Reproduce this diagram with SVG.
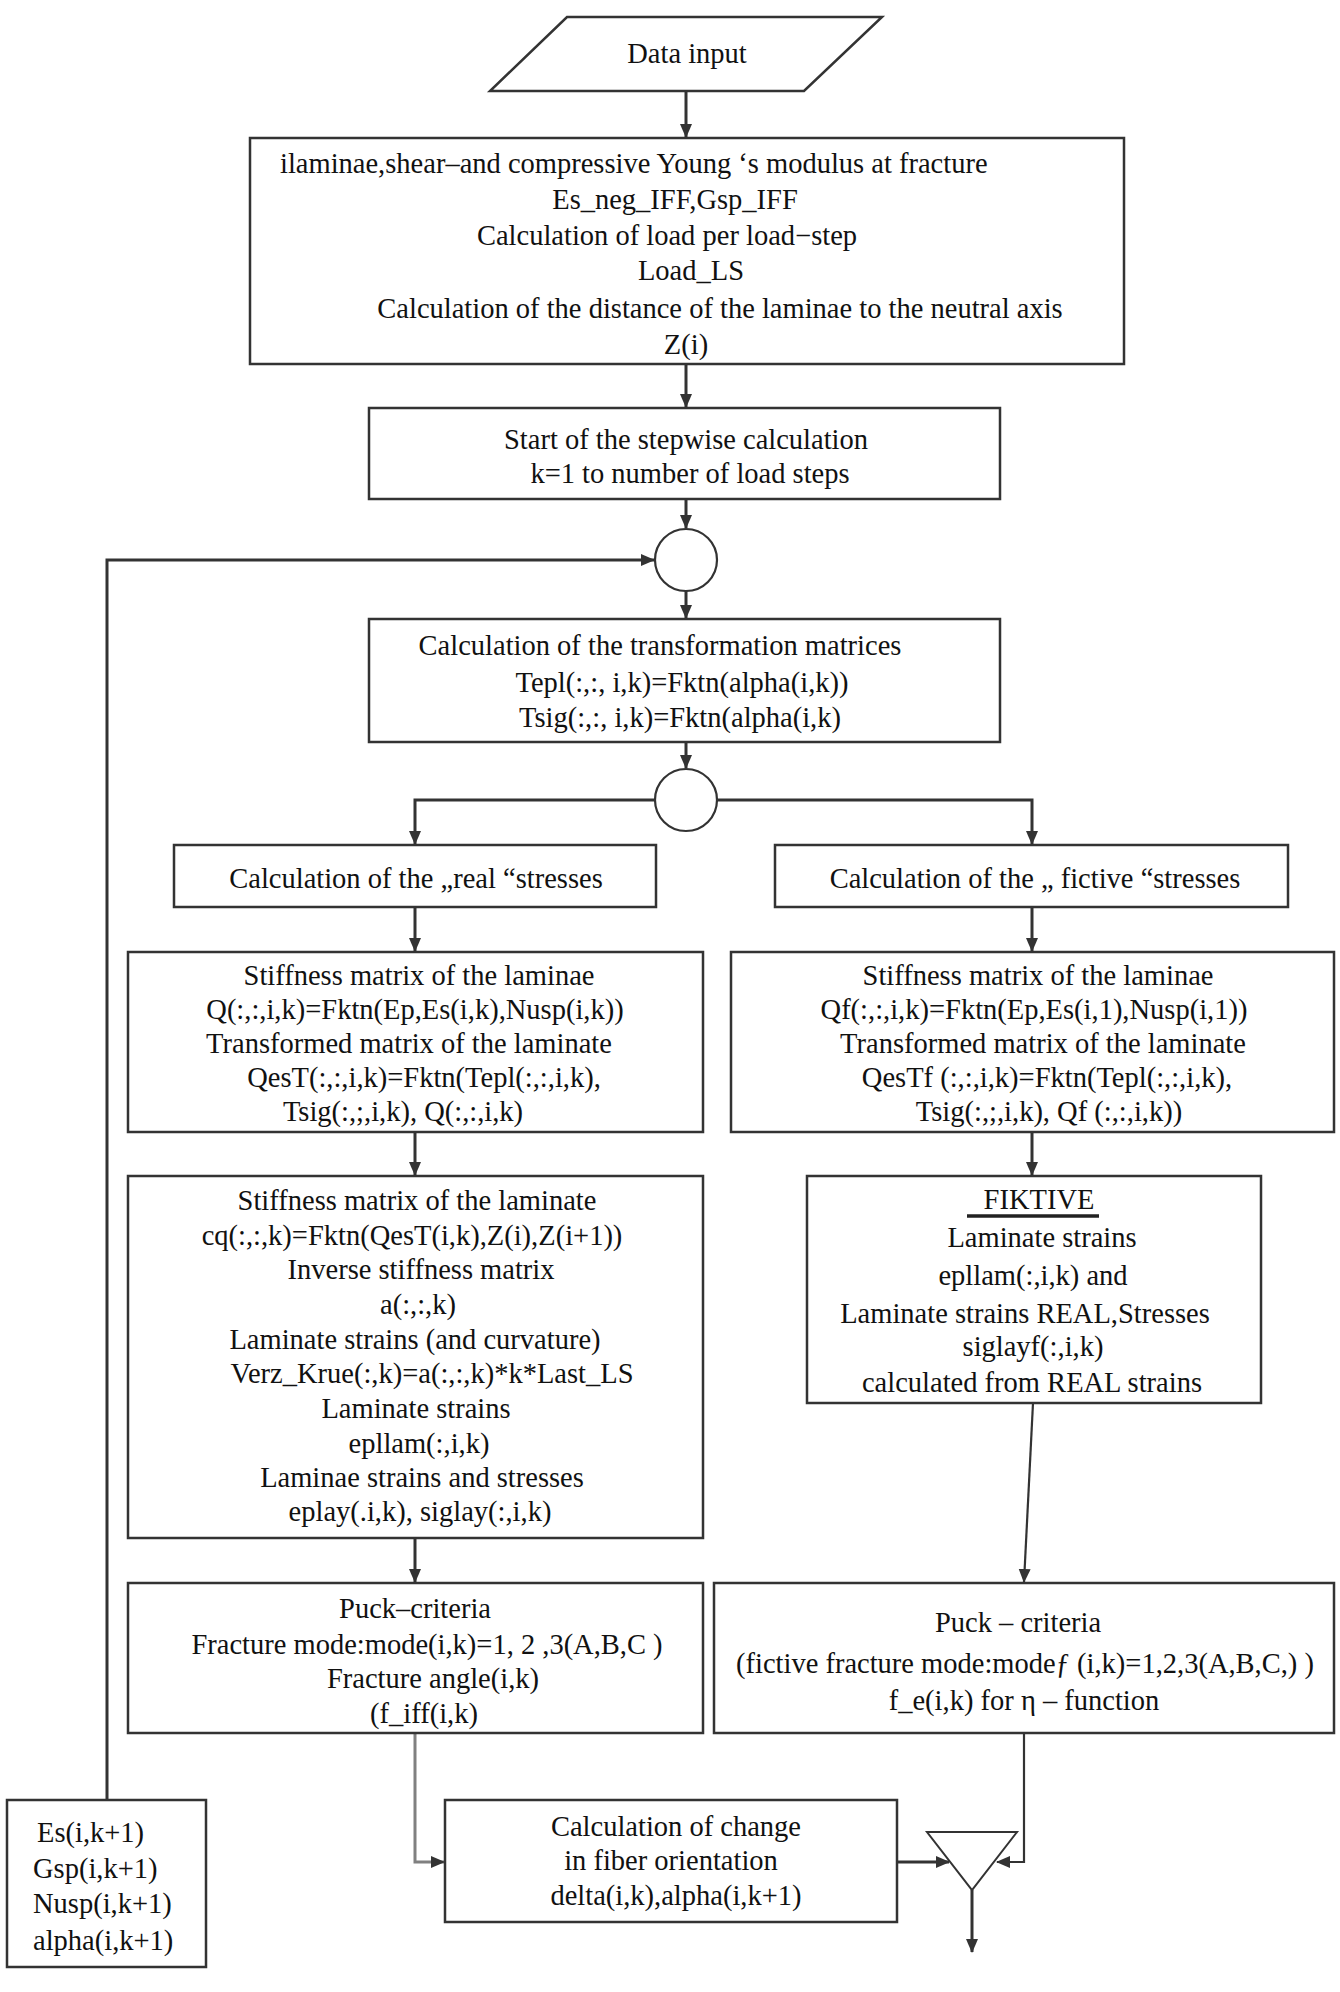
<svg xmlns="http://www.w3.org/2000/svg" width="1340" height="1992" viewBox="0 0 1340 1992">
<style>
.box{fill:#fff;stroke:#333;stroke-width:2.5}
.t{font-family:"Liberation Serif","Times New Roman",serif;font-size:28.5px;fill:#111;text-anchor:middle}
.s{text-anchor:start}
.c{fill:none;stroke:#333;stroke-width:3}
.thin{stroke-width:2.2}
.grey{stroke:#808080}
</style>
<defs>
<marker id="ah" markerUnits="userSpaceOnUse" markerWidth="14" markerHeight="14" viewBox="0 0 14 14" refX="13" refY="7" orient="auto"><path d="M0,1 L14,7 L0,13 z" fill="#333"/></marker>
</defs>
<rect width="1340" height="1992" fill="#fff"/>
<g id="connectors">
<line class="c" x1="686" y1="91" x2="686" y2="137" stroke-width="5" marker-end="url(#ah)"/>
<line class="c" x1="686" y1="364" x2="686" y2="407" marker-end="url(#ah)"/>
<line class="c" x1="686" y1="499" x2="686" y2="528" marker-end="url(#ah)"/>
<line class="c" x1="686" y1="591" x2="686" y2="618" marker-end="url(#ah)"/>
<line class="c" x1="686" y1="742" x2="686" y2="768" marker-end="url(#ah)"/>
<path class="c" d="M655,800 H415 V844" stroke-width="3.5" marker-end="url(#ah)"/>
<path class="c" d="M717,800 H1032 V844" stroke-width="3.5" marker-end="url(#ah)"/>
<line class="c" x1="415" y1="907" x2="415" y2="951" marker-end="url(#ah)"/>
<line class="c" x1="1032" y1="907" x2="1032" y2="951" marker-end="url(#ah)"/>
<line class="c" x1="415" y1="1132" x2="415" y2="1175" marker-end="url(#ah)"/>
<line class="c" x1="1032" y1="1132" x2="1032" y2="1175" marker-end="url(#ah)"/>
<line class="c" x1="415" y1="1538" x2="415" y2="1582" marker-end="url(#ah)"/>
<line class="c thin" x1="1033" y1="1403" x2="1024" y2="1582" marker-end="url(#ah)"/>
<path class="c grey" d="M415,1733 V1862 H444" marker-end="url(#ah)"/>
<path class="c thin" d="M1024,1733 V1862 H997" marker-end="url(#ah)"/>
<line class="c" x1="897" y1="1862" x2="949" y2="1862" stroke-width="6" marker-end="url(#ah)"/>
<line class="c" x1="972" y1="1890" x2="972" y2="1952" marker-end="url(#ah)"/>
<path class="c" d="M107,1800 V560 H654" marker-end="url(#ah)"/>
</g>
<g id="data-input">
<polygon class="box" points="567,17 882,17 804,91 490,91"/>
<text class="t" x="687" y="63">Data input</text>
</g>
<g id="init">
<rect class="box" x="250" y="138" width="874" height="226"/>
<text class="t s" x="280" y="173">ilaminae,shear–and compressive Young ‘s modulus at fracture</text>
<text class="t" x="675" y="209">Es_neg_IFF,Gsp_IFF</text>
<text class="t" x="667" y="245">Calculation of load per load−step</text>
<text class="t" x="691" y="280">Load_LS</text>
<text class="t" x="720" y="318">Calculation of the distance of the laminae to the neutral axis</text>
<text class="t" x="686" y="354">Z(i)</text>
</g>
<g id="start">
<rect class="box" x="369" y="408" width="631" height="91"/>
<text class="t" x="686" y="449">Start of the stepwise calculation</text>
<text class="t" x="690" y="483">k=1 to number of load steps</text>
</g>
<g id="join1">
<circle cx="686" cy="560" r="31" fill="#fff" stroke="#333" stroke-width="2.2"/>
</g>
<g id="transform">
<rect class="box" x="369" y="619" width="631" height="123"/>
<text class="t" x="660" y="655">Calculation of the transformation matrices</text>
<text class="t" x="682" y="692">Tepl(:,:, i,k)=Fktn(alpha(i,k))</text>
<text class="t" x="680" y="727">Tsig(:,:, i,k)=Fktn(alpha(i,k)</text>
</g>
<g id="split">
<circle cx="686" cy="800" r="31" fill="#fff" stroke="#333" stroke-width="2.2"/>
</g>
<g id="real">
<rect class="box" x="174" y="845" width="482" height="62"/>
<text class="t" x="416" y="888">Calculation of the „real “stresses</text>
</g>
<g id="fictive">
<rect class="box" x="775" y="845" width="513" height="62"/>
<text class="t" x="1035" y="888">Calculation of the „ fictive “stresses</text>
</g>
<g id="stiff-real">
<rect class="box" x="128" y="952" width="575" height="180"/>
<text class="t" x="419" y="985">Stiffness matrix of the laminae</text>
<text class="t" x="415" y="1019">Q(:,:,i,k)=Fktn(Ep,Es(i,k),Nusp(i,k))</text>
<text class="t" x="409" y="1053">Transformed matrix of the laminate</text>
<text class="t" x="424" y="1087">QesT(:,:,i,k)=Fktn(Tepl(:,:,i,k),</text>
<text class="t" x="403" y="1121">Tsig(:,;,i,k), Q(:,:,i,k)</text>
</g>
<g id="stiff-fictive">
<rect class="box" x="731" y="952" width="603" height="180"/>
<text class="t" x="1038" y="985">Stiffness matrix of  the laminae</text>
<text class="t" x="1034" y="1019">Qf(:,:,i,k)=Fktn(Ep,Es(i,1),Nusp(i,1))</text>
<text class="t" x="1043" y="1053">Transformed matrix of the laminate</text>
<text class="t" x="1047" y="1087">QesTf (:,:,i,k)=Fktn(Tepl(:,:,i,k),</text>
<text class="t" x="1049" y="1121">Tsig(:,;,i,k), Qf (:,:,i,k))</text>
</g>
<g id="laminate-real">
<rect class="box" x="128" y="1176" width="575" height="362"/>
<text class="t" x="417" y="1210">Stiffness matrix of the laminate</text>
<text class="t" x="412" y="1245">cq(:,:,k)=Fktn(QesT(i,k),Z(i),Z(i+1))</text>
<text class="t" x="421" y="1279">Inverse stiffness matrix</text>
<text class="t" x="418" y="1314">a(:,:,k)</text>
<text class="t" x="415" y="1349">Laminate strains (and curvature)</text>
<text class="t" x="432" y="1383">Verz_Krue(:,k)=a(:,:,k)*k*Last_LS</text>
<text class="t" x="416" y="1418">Laminate strains</text>
<text class="t" x="419" y="1453">epllam(:,i,k)</text>
<text class="t" x="422" y="1487">Laminae strains and stresses</text>
<text class="t" x="420" y="1521">eplay(.i,k), siglay(:,i,k)</text>
</g>
<g id="fiktive">
<rect class="box" x="807" y="1176" width="454" height="227"/>
<text class="t" x="1039" y="1209">FIKTIVE</text>
<line x1="967" y1="1216" x2="1099" y2="1216" stroke="#222" stroke-width="3.5"/>
<text class="t" x="1042" y="1247">Laminate strains</text>
<text class="t" x="1033" y="1285">epllam(:,i,k) and</text>
<text class="t" x="1025" y="1323">Laminate  strains REAL,Stresses</text>
<text class="t" x="1033" y="1356">siglayf(:,i,k)</text>
<text class="t" x="1032" y="1392">calculated from REAL strains</text>
</g>
<g id="puck-real">
<rect class="box" x="128" y="1583" width="575" height="150"/>
<text class="t" x="415" y="1618">Puck–criteria</text>
<text class="t" x="427" y="1654">Fracture mode:mode(i,k)=1, 2 ,3(A,B,C )</text>
<text class="t" x="433" y="1688">Fracture  angle(i,k)</text>
<text class="t" x="424" y="1723">(f_iff(i,k)</text>
</g>
<g id="puck-fictive">
<rect class="box" x="714" y="1583" width="620" height="150"/>
<text class="t" x="1018" y="1632">Puck – criteria</text>
<text class="t" x="1025" y="1673">(fictive  fracture mode:modeƒ (i,k)=1,2,3(A,B,C,) )</text>
<text class="t" x="1024" y="1710">f_e(i,k) for η – function</text>
</g>
<g id="update">
<rect class="box" x="7" y="1800" width="199" height="167"/>
<text class="t s" x="37" y="1842">Es(i,k+1)</text>
<text class="t s" x="33" y="1878">Gsp(i,k+1)</text>
<text class="t s" x="33" y="1913">Nusp(i,k+1)</text>
<text class="t s" x="33" y="1950">alpha(i,k+1)</text>
</g>
<g id="orientation">
<rect class="box" x="445" y="1800" width="452" height="122"/>
<text class="t" x="676" y="1836">Calculation of change</text>
<text class="t" x="671" y="1870">in fiber orientation</text>
<text class="t" x="676" y="1905">delta(i,k),alpha(i,k+1)</text>
</g>
<g id="merge">
<polygon points="927,1832 1017,1832 972,1890" fill="#fff" stroke="#333" stroke-width="2"/>
</g>
</svg>
